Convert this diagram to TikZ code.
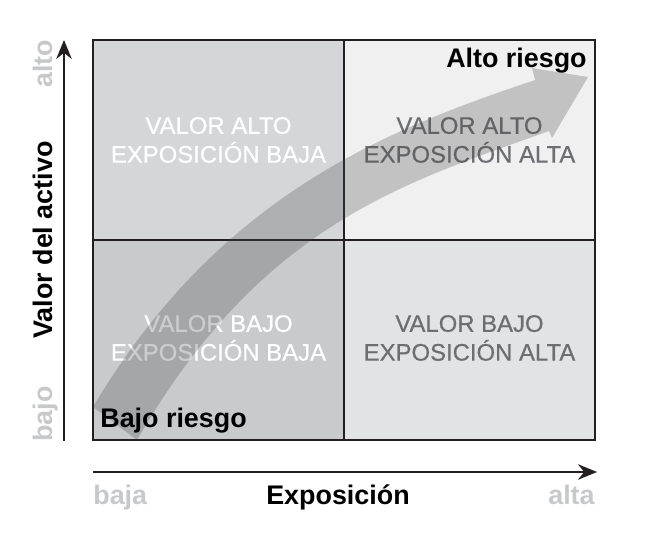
\documentclass[tikz,border=0pt]{standalone}
\usepackage{fontspec}
\setmainfont{Liberation Sans}
\newfontfamily\quadfont{Liberation Sans}[FakeBold=0.6]
\usepackage{tikz}
\usetikzlibrary{arrows.meta}
\usepackage{xcolor}
\definecolor{ink}{HTML}{231F20}
\definecolor{qtl}{HTML}{D5D6D8}
\definecolor{qtr}{HTML}{F0F0F1}
\definecolor{qbl}{HTML}{C9CACC}
\definecolor{qbr}{HTML}{E2E3E5}
\definecolor{qdark}{HTML}{6D6E71}
\definecolor{axgray}{HTML}{C7C8CA}
\definecolor{bandgray}{HTML}{474747}

\begin{document}
\begin{tikzpicture}[x=0.02cm,y=0.02cm,>={Stealth[length=0.38cm,width=0.31cm]},
  quad/.style={align=center,font=\quadfont\fontsize{13.6}{16.4}\selectfont,inner sep=0pt},
  lbl/.style={font=\fontsize{15.3}{18}\selectfont\bfseries,inner sep=0pt},
  endlbl/.style={lbl,text=axgray}]
\useasboundingbox (0,0) rectangle (647,545);
% quadrants
\fill[qtl] (93,305) rectangle (344,505);
\fill[qtr] (344,305) rectangle (595,505);
\fill[qbl] (93,105) rectangle (344,305);
\fill[qbr] (344,105) rectangle (595,305);
\node[quad,text=white] (ae) at (218.5,405) {VALOR ALTO\\EXPOSICIÓN BAJA};
\node[quad,text=qdark] (aa) at (469.5,405) {VALOR ALTO\\EXPOSICIÓN ALTA};
\node[quad,text=white] (be) at (218.5,207) {VALOR BAJO\\EXPOSICIÓN BAJA};
\node[quad,text=qdark] (ba) at (469.5,207) {VALOR BAJO\\EXPOSICIÓN ALTA};
% grid
\draw[ink,line width=1.4pt] (344,105) -- (344,505) (93,305) -- (595,305);
\draw[ink,line width=1.7pt] (93,105) rectangle (595,505);
% risk arrow
\fill[bandgray,opacity=.27] (93,138) .. controls (220.5,353) and (392.5,417) .. (535,465)
  -- (532,477) -- (588,468) -- (552,407) -- (549,414)
  .. controls (408,363) and (262,322.5) .. (137,105) -- cycle;
\node[lbl,anchor=base east] (alto) at (587,477) {Alto riesgo};
\node[lbl,anchor=base west] (bajo) at (100,117) {Bajo riesgo};
% axes
\coordinate (yb) at (64,104);
\coordinate (yt) at (64,505);
\coordinate (xl) at (93,73);
\coordinate (xr) at (597,73);
\draw[->,ink,line width=1.2pt] (yb) -- (yt);
\draw[->,ink,line width=1.2pt] (xl) -- (xr);
\node[lbl,rotate=90,anchor=base] (valor) at (52,305) {Valor del activo};
\node[endlbl,rotate=90,anchor=base west] (yhi) at (52,457) {alto};
\node[endlbl,rotate=90,anchor=base west] (ylo) at (52,103) {bajo};
\node[lbl,anchor=base] (expo) at (338,40) {Exposición};
\node[endlbl,anchor=base west] (xlo) at (93,40) {baja};
\node[endlbl,anchor=base east] (xhi) at (595,40) {alta};
\end{tikzpicture}
\end{document}
